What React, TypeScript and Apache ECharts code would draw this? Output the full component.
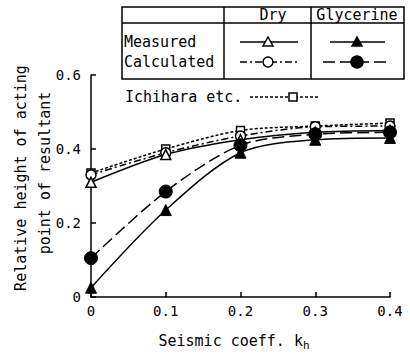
import React, { useEffect, useRef } from "react";
import * as echarts from "echarts";

const kh = [0, 0.1, 0.2, 0.3, 0.4];
const dryMeasured = [0.31, 0.385, 0.425, 0.445, 0.45];
const dryCalculated = [0.33, 0.39, 0.435, 0.46, 0.462];
const glyMeasured = [0.025, 0.235, 0.39, 0.425, 0.43];
const glyCalculated = [0.105, 0.285, 0.41, 0.44, 0.445];
const ichihara = [0.335, 0.4, 0.45, 0.462, 0.47];
const xTicks = ["0", "0.1", "0.2", "0.3", "0.4"];
const yTicks = ["0", "0.2", "0.4", "0.6"];

const FONT = "DejaVu Sans Mono";

const pair = (ys: number[]) => kh.map((x, i) => [x, ys[i]]);

export default function App() {
  const ref = useRef<HTMLDivElement>(null);
  useEffect(() => {
    const chart = echarts.init(ref.current!, undefined, { renderer: "svg" });
    const ln = (dash: any) => ({ color: "#000", width: 1.5, type: dash });
    const openStyle = { color: "#fff", borderColor: "#000", borderWidth: 1.5 };
    const fillStyle = { color: "#000", borderColor: "#000", borderWidth: 1 };
    const txt = (x: number, y: number, t: string, align = "left") => ({
      type: "text",
      x,
      y,
      style: { text: t, font: `15px ${FONT}`, fill: "#000", textAlign: align, textVerticalAlign: "middle" },
    });
    const seg = (x1: number, x2: number, y: number, dash: any) => ({
      type: "line",
      shape: { x1, y1: y, x2, y2: y },
      style: { stroke: "#000", lineWidth: 1.5, lineDash: dash },
    });
    const tri = (cx: number, cy: number, filled: boolean) => ({
      type: "polygon",
      shape: { points: [[cx, cy - 5], [cx + 5, cy + 4], [cx - 5, cy + 4]] },
      style: { fill: filled ? "#000" : "#fff", stroke: "#000", lineWidth: 1.5 },
    });
    const circ = (cx: number, cy: number, r: number, filled: boolean) => ({
      type: "circle",
      shape: { cx, cy, r },
      style: { fill: filled ? "#000" : "#fff", stroke: "#000", lineWidth: 1.5 },
    });
    const vline = (x: number, y1: number, y2: number) => ({
      type: "line",
      shape: { x1: x, y1, x2: x, y2 },
      style: { stroke: "#000", lineWidth: 1.5 },
    });
    const hline = (x1: number, x2: number, y: number) => ({
      type: "line",
      shape: { x1, y1: y, x2, y2: y },
      style: { stroke: "#000", lineWidth: 1.5 },
    });

    chart.setOption({
      animation: false,
      backgroundColor: "#fff",
      grid: { left: 91, right: 20, top: 75, bottom: 59 },
      xAxis: {
        type: "value",
        min: 0,
        max: 0.4,
        interval: 0.1,
        axisLine: { lineStyle: { color: "#000", width: 1.5 } },
        axisTick: { inside: true, length: 5, lineStyle: { color: "#000", width: 1.5 } },
        splitLine: { show: false },
        axisLabel: {
          color: "#000",
          fontFamily: FONT,
          fontSize: 14,
          margin: 7,
          formatter: (v: number) => xTicks[Math.round(v * 10)] ?? "",
        },
      },
      yAxis: {
        type: "value",
        min: 0,
        max: 0.6,
        interval: 0.2,
        axisLine: { show: true, lineStyle: { color: "#000", width: 1.5 } },
        axisTick: { show: true, inside: true, length: 5, lineStyle: { color: "#000", width: 1.5 } },
        splitLine: { show: false },
        axisLabel: {
          color: "#000",
          fontFamily: FONT,
          fontSize: 14,
          margin: 10,
          formatter: (v: number) => yTicks[Math.round(v * 5)] ?? "",
        },
      },
      series: [
        {
          name: "Ichihara etc.",
          type: "line",
          smooth: 0.3,
          data: pair(ichihara),
          symbol: "rect",
          symbolSize: 8,
          itemStyle: openStyle,
          lineStyle: ln([3, 2]),
        },
        {
          name: "Calculated Dry",
          type: "line",
          smooth: 0.3,
          data: pair(dryCalculated),
          symbol: "circle",
          symbolSize: 10,
          itemStyle: openStyle,
          lineStyle: ln([7, 3, 2, 3]),
        },
        {
          name: "Measured Dry",
          type: "line",
          smooth: 0.3,
          data: pair(dryMeasured),
          symbol: "triangle",
          symbolSize: 10,
          itemStyle: openStyle,
          lineStyle: ln("solid"),
        },
        {
          name: "Calculated Glycerine",
          type: "line",
          smooth: 0.3,
          data: pair(glyCalculated),
          symbol: "circle",
          symbolSize: 13,
          itemStyle: fillStyle,
          lineStyle: ln([12, 5]),
        },
        {
          name: "Measured Glycerine",
          type: "line",
          smooth: 0.3,
          data: pair(glyMeasured),
          symbol: "triangle",
          symbolSize: 11,
          itemStyle: fillStyle,
          lineStyle: ln("solid"),
        },
      ],
      graphic: [
        {
          type: "text",
          x: 21,
          y: 178,
          rotation: Math.PI / 2,
          style: { text: "Relative height of acting", font: `15px ${FONT}`, fill: "#000", textAlign: "center", textVerticalAlign: "middle" },
        },
        {
          type: "text",
          x: 45,
          y: 173,
          rotation: Math.PI / 2,
          style: { text: "point of resultant", font: `15px ${FONT}`, fill: "#000", textAlign: "center", textVerticalAlign: "middle" },
        },
        {
          type: "text",
          x: 234,
          y: 341,
          style: {
            text: "Seismic coeff. {k|k}{h|h}",
            font: `15px ${FONT}`,
            fill: "#000",
            textAlign: "center",
            textVerticalAlign: "middle",
            rich: {
              k: { fontFamily: FONT, fontSize: 15, fill: "#000" },
              h: { fontFamily: FONT, fontSize: 11, fill: "#000", padding: [8, 0, 0, 0] },
            },
          },
        },
        // Legend table
        {
          type: "rect",
          shape: { x: 122, y: 7, width: 282, height: 72 },
          style: { fill: "none", stroke: "#000", lineWidth: 1.5 },
        },
        hline(122, 404, 23),
        vline(224, 7, 79),
        vline(311, 7, 79),
        txt(273, 15, "Dry", "center"),
        txt(357, 15, "Glycerine", "center"),
        txt(124, 42, "Measured"),
        txt(124, 62, "Calculated"),
        seg(240, 298, 42, null),
        tri(268, 42, false),
        seg(330, 385, 42, null),
        tri(357, 42, true),
        seg(240, 298, 62, [7, 3, 2, 3]),
        circ(268, 62, 5, false),
        seg(323, 390, 62, [12, 5]),
        circ(357, 62, 6, true),
        txt(125, 97, "Ichihara etc."),
        seg(250, 318, 97, [3, 2]),
        {
          type: "rect",
          shape: { x: 289, y: 93, width: 8, height: 8 },
          style: { fill: "#fff", stroke: "#000", lineWidth: 1.5 },
        },
      ],
    });
    return () => chart.dispose();
  }, []);
  return (
    <div
      ref={ref}
      style={{ position: "fixed", left: 0, top: 0, width: 410, height: 356, background: "#fff" }}
    />
  );
}
